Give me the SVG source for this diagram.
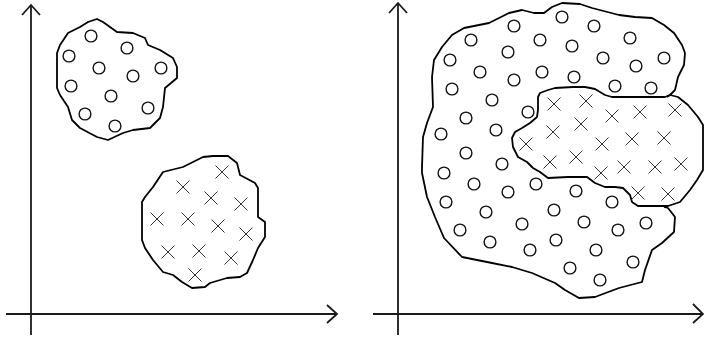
<svg xmlns="http://www.w3.org/2000/svg" xmlns:xlink="http://www.w3.org/1999/xlink" width="704" height="339" viewBox="0 0 704 339">
<style>
.axis{fill:none;stroke:#1a1a1a;stroke-width:1.8}
.outline{fill:none;stroke:#000;stroke-width:1.8;stroke-linejoin:round}
.o{fill:none;stroke:#111;stroke-width:1.4}
.x{fill:none;stroke:#333;stroke-width:1}
</style>
<defs>
<circle id="oc" r="5.9" class="o"/>
<path id="xc" class="x" d="M-6.5,-6.5L6.5,6.5M6.5,-6.5L-6.5,6.5"/>
</defs>
<rect width="704" height="339" fill="#fff"/>

<g id="left-axes">
<line class="axis" x1="31" y1="5" x2="31" y2="335"/>
<polyline class="axis" points="22,15 31,5 40,15"/>
<line class="axis" x1="6" y1="314" x2="337" y2="314"/>
<polyline class="axis" points="327,305 337,314 327,323"/>
</g>

<g id="left-cluster-o">
<path class="outline" d="M97,19 L103,22 L117,32 L133,33 L145,38 L148,45 L160,50 L173,58 L177,67 L177,78 L165,88 L163,107 L160,118 L150,128 L133,130 L123,133 L108,140 L97,137 L80,128 L72,120 L68,107 L60,95 L57,88 L57,53 L60,45 L68,33 L80,27 L88,22 Z"/>
<use xlink:href="#oc" x="91" y="36"/>
<use xlink:href="#oc" x="127" y="48"/>
<use xlink:href="#oc" x="69" y="56"/>
<use xlink:href="#oc" x="99" y="68"/>
<use xlink:href="#oc" x="133" y="76"/>
<use xlink:href="#oc" x="161" y="68"/>
<use xlink:href="#oc" x="71" y="86"/>
<use xlink:href="#oc" x="111" y="96"/>
<use xlink:href="#oc" x="148" y="108"/>
<use xlink:href="#oc" x="85" y="114"/>
<use xlink:href="#oc" x="115" y="126"/>
</g>

<g id="left-cluster-x">
<path class="outline" d="M213,156 L228,156 L237,163 L240,175 L255,183 L258,188 L258,217 L265,222 L265,237 L258,248 L253,260 L247,273 L240,277 L227,278 L210,283 L205,287 L192,288 L182,282 L173,275 L163,272 L153,260 L145,248 L142,240 L142,202 L145,197 L153,187 L163,172 L183,167 L193,162 L203,157 Z"/>
<use xlink:href="#xc" x="222" y="172"/>
<use xlink:href="#xc" x="183" y="187"/>
<use xlink:href="#xc" x="211" y="198"/>
<use xlink:href="#xc" x="241" y="204"/>
<use xlink:href="#xc" x="157" y="219"/>
<use xlink:href="#xc" x="188" y="219"/>
<use xlink:href="#xc" x="218" y="226"/>
<use xlink:href="#xc" x="246" y="234"/>
<use xlink:href="#xc" x="168" y="252"/>
<use xlink:href="#xc" x="199" y="251"/>
<use xlink:href="#xc" x="231" y="258"/>
<use xlink:href="#xc" x="195" y="275"/>
</g>

<g id="right-axes">
<line class="axis" x1="398" y1="3" x2="398" y2="335"/>
<polyline class="axis" points="389,13 398,3 407,13"/>
<line class="axis" x1="373" y1="314" x2="703" y2="314"/>
<polyline class="axis" points="693,304 703,314 693,323"/>
</g>

<g id="right-cluster-o">
<path class="outline" d="M667,97 L670,95 L675,90 L678,77 L684,65 L685,53 L682,45 L674,33 L664,25 L652,18 L635,17 L619,15 L592,8 L580,4 L562,3 L552,7 L544,13 L534,13 L522,10 L509,13 L499,18 L489,23 L479,25 L464,28 L452,35 L442,47 L434,60 L432,77 L433,107 L427,123 L423,137 L422,167 L422,173 L427,197 L435,217 L444,238 L462,257 L492,263 L512,267 L532,273 L555,283 L565,290 L579,298 L595,297 L619,288 L642,282 L645,270 L652,250 L662,243 L674,232 L675,217 L668,208 L664,207"/>
<use xlink:href="#oc" x="562" y="17"/>
<use xlink:href="#oc" x="514" y="26"/>
<use xlink:href="#oc" x="594" y="26"/>
<use xlink:href="#oc" x="471" y="40"/>
<use xlink:href="#oc" x="540" y="40"/>
<use xlink:href="#oc" x="630" y="38"/>
<use xlink:href="#oc" x="572" y="46"/>
<use xlink:href="#oc" x="508" y="52"/>
<use xlink:href="#oc" x="450" y="60"/>
<use xlink:href="#oc" x="603" y="58"/>
<use xlink:href="#oc" x="664" y="58"/>
<use xlink:href="#oc" x="636" y="66"/>
<use xlink:href="#oc" x="480" y="72"/>
<use xlink:href="#oc" x="542" y="72"/>
<use xlink:href="#oc" x="574" y="77"/>
<use xlink:href="#oc" x="514" y="80"/>
<use xlink:href="#oc" x="615" y="86"/>
<use xlink:href="#oc" x="651" y="88"/>
<use xlink:href="#oc" x="452" y="89"/>
<use xlink:href="#oc" x="492" y="100"/>
<use xlink:href="#oc" x="528" y="112"/>
<use xlink:href="#oc" x="466" y="118"/>
<use xlink:href="#oc" x="496" y="130"/>
<use xlink:href="#oc" x="441" y="134"/>
<use xlink:href="#oc" x="466" y="153"/>
<use xlink:href="#oc" x="502" y="164"/>
<use xlink:href="#oc" x="444" y="173"/>
<use xlink:href="#oc" x="474" y="184"/>
<use xlink:href="#oc" x="508" y="192"/>
<use xlink:href="#oc" x="536" y="184"/>
<use xlink:href="#oc" x="576" y="191"/>
<use xlink:href="#oc" x="446" y="202"/>
<use xlink:href="#oc" x="612" y="202"/>
<use xlink:href="#oc" x="486" y="212"/>
<use xlink:href="#oc" x="554" y="210"/>
<use xlink:href="#oc" x="522" y="224"/>
<use xlink:href="#oc" x="584" y="222"/>
<use xlink:href="#oc" x="646" y="223"/>
<use xlink:href="#oc" x="460" y="230"/>
<use xlink:href="#oc" x="618" y="230"/>
<use xlink:href="#oc" x="490" y="242"/>
<use xlink:href="#oc" x="556" y="240"/>
<use xlink:href="#oc" x="530" y="250"/>
<use xlink:href="#oc" x="596" y="250"/>
<use xlink:href="#oc" x="633" y="262"/>
<use xlink:href="#oc" x="570" y="268"/>
<use xlink:href="#oc" x="600" y="280"/>
</g>

<g id="right-cluster-x">
<path class="outline" d="M538,97 L540,93 L548,90 L555,88 L573,87 L585,87 L595,89 L605,95 L612,97 L665,97 L670,95 L678,97 L688,105 L698,117 L703,125 L703,170 L697,180 L690,190 L680,202 L668,206 L638,206 L632,202 L630,195 L623,188 L615,187 L605,187 L595,183 L587,177 L568,177 L548,178 L540,172 L533,168 L527,162 L518,157 L513,147 L512,138 L515,132 L522,128 L530,123 L537,117 L538,110 Z"/>
<use xlink:href="#xc" x="554" y="104"/>
<use xlink:href="#xc" x="586" y="101"/>
<use xlink:href="#xc" x="612" y="116"/>
<use xlink:href="#xc" x="640" y="112"/>
<use xlink:href="#xc" x="675" y="110"/>
<use xlink:href="#xc" x="553" y="132"/>
<use xlink:href="#xc" x="581" y="124"/>
<use xlink:href="#xc" x="526" y="144"/>
<use xlink:href="#xc" x="602" y="144"/>
<use xlink:href="#xc" x="632" y="139"/>
<use xlink:href="#xc" x="664" y="138"/>
<use xlink:href="#xc" x="550" y="162"/>
<use xlink:href="#xc" x="576" y="157"/>
<use xlink:href="#xc" x="601" y="173"/>
<use xlink:href="#xc" x="624" y="167"/>
<use xlink:href="#xc" x="655" y="167"/>
<use xlink:href="#xc" x="681" y="164"/>
<use xlink:href="#xc" x="638" y="193"/>
<use xlink:href="#xc" x="668" y="194"/>
</g>
</svg>
